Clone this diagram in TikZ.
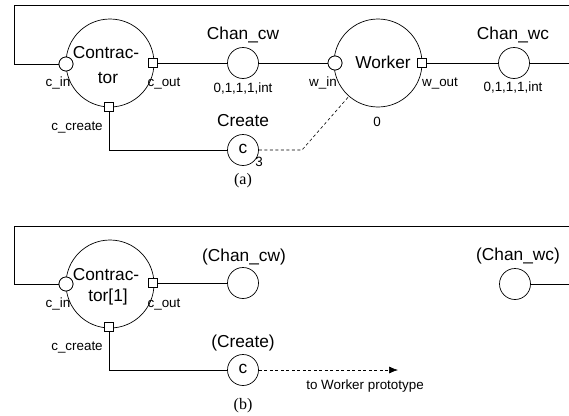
\documentclass[tikz,border=0pt]{standalone}
\usepackage{fontspec}
\setmainfont{Liberation Sans}
\newfontfamily\capfont{Liberation Serif}
\usetikzlibrary{arrows.meta}
\begin{document}
\begin{tikzpicture}[x=1pt,y=-1pt,line width=0.7pt,
  big/.style={circle,draw,minimum size=88pt,inner sep=0pt},
  chan/.style={circle,draw,minimum size=31pt,inner sep=0pt},
  inport/.style={circle,draw,fill=white,minimum size=14pt,inner sep=0pt},
  outport/.style={rectangle,draw,fill=white,minimum size=9pt,inner sep=0pt},
  lbl/.style={font=\fontsize{17.3}{20}\selectfont,inner sep=0pt},
  sml/.style={font=\fontsize{13.4}{16}\selectfont,inner sep=0pt},
  captxt/.style={font=\capfont\fontsize{16}{19}\selectfont,inner sep=0pt},
  dashwire/.style={dash pattern=on 3pt off 2.5pt,line width=0.6pt}]
\useasboundingbox (0,0) rectangle (569,415);
% ---------------- (a) ----------------
\node[big] (con) at (110,63) {};
\node[lbl] (conA) at (106,53) {Contrac-};
\node[lbl] (conB) at (108,78) {tor};
\node[inport] (cin) at (66,64) {};
\node[outport] (cout) at (153,63) {};
\node[outport] (ccr) at (109,107) {};
\node[sml] (cinl) at (58,83) {c\_in};
\node[sml] (coutl) at (164,83) {c\_out};
\node[sml] (ccrl) at (77,127) {c\_create};
\node[chan] (cw) at (243,63) {};
\node[lbl] (cwl) at (243,35) {Chan\_cw};
\node[sml] (cwt) at (243,89) {0,1,1,1,int};
\node[big] (wk) at (378,63) {};
\node[lbl] (wkl) at (383,62) {Worker};
\node[inport] (win) at (335,63) {};
\node[outport] (wout) at (422,63) {};
\node[sml] (winl) at (323,83) {w\_in};
\node[sml] (woutl) at (440,83) {w\_out};
\node[sml] (wk0) at (377,122) {0};
\node[chan] (wc) at (514,63) {};
\node[lbl] (wcl) at (513,35) {Chan\_wc};
\node[sml] (wct) at (513,88) {0,1,1,1,int};
\node[chan] (cr) at (243,150) {};
\node[lbl] (crc) at (243,149) {c};
\node[sml] (cr3) at (259,162) {3};
\node[lbl] (crl) at (243,121) {Create};
\node[captxt] (capa) at (243,181) {(a)};
\coordinate (la) at (14,64);
\coordinate (ra) at (569,5);
\coordinate (ea) at (569,63);
\coordinate (da) at (302,150);
\draw (cin) -- (la) |- (ra);
\draw (cout) -- (cw);
\draw (cw) -- (win);
\draw (wout) -- (wc);
\draw (wc) -- (ea);
\draw (ccr) |- (cr);
\draw[dashwire] (cr) -- (da) -- (wk);
% redraw ports on top
\node[inport] at (cin) {};
\node[outport] at (cout) {};
\node[outport] at (ccr) {};
\node[inport] at (win) {};
\node[outport] at (wout) {};
% ---------------- (b) ----------------
\node[big] (conb) at (110,284) {};
\node[lbl] (conbA) at (106,275) {Contrac-};
\node[lbl] (conbB) at (108,297) {tor[1]};
\node[inport] (cinb) at (66,284) {};
\node[outport] (coutb) at (153,283) {};
\node[outport] (ccrb) at (109,327) {};
\node[sml] (cinbl) at (58,304) {c\_in};
\node[sml] (coutbl) at (164,304) {c\_out};
\node[sml] (ccrbl) at (77,347) {c\_create};
\node[chan] (cwb) at (243,283) {};
\node[lbl] (cwbl) at (244,257) {(Chan\_cw)};
\node[chan] (wcb) at (515,284) {};
\node[lbl] (wcbl) at (518,256) {(Chan\_wc)};
\node[chan] (crb) at (243,370) {};
\node[lbl] (crbc) at (243,369) {c};
\node[lbl] (crbl) at (243,343) {(Create)};
\node[sml] (tow) at (365,386) {to Worker prototype};
\node[captxt] (capb) at (243,406) {(b)};
\coordinate (lb) at (14,284);
\coordinate (rb) at (569,226);
\coordinate (eb) at (569,284);
\coordinate (tip) at (398,370);
\draw (cinb) -- (lb) |- (rb);
\draw (coutb) -- (cwb);
\draw (wcb) -- (eb);
\draw (ccrb) |- (crb);
\draw[dashwire,-{Latex[length=9pt,width=7pt]}] (crb) -- (tip);
\node[inport] at (cinb) {};
\node[outport] at (coutb) {};
\node[outport] at (ccrb) {};
\end{tikzpicture}
\end{document}
